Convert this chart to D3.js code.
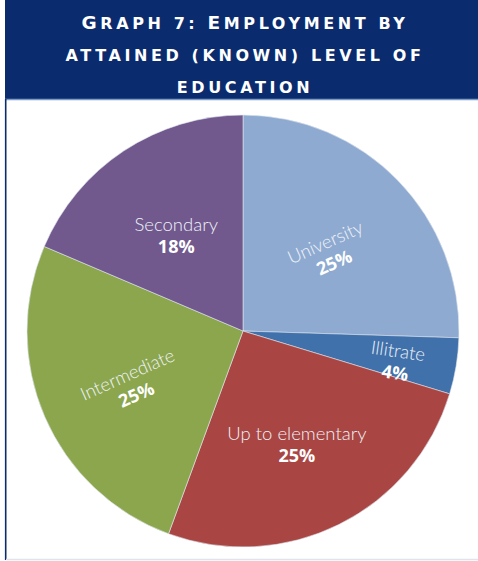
<!DOCTYPE html>
<html>
<head>
<meta charset="utf-8">
<script src="https://cdn.jsdelivr.net/npm/d3@7"></script>
<style>
  body { margin: 0; background: #fff; }
  svg { display: block; }
</style>
</head>
<body>
<div id="chart"></div>
<script>
// Data (shares of employed, in %)
const categories = ["University", "Illitrate", "Up to elementary", "Intermediate", "Secondary"];
const shares = [25.5, 4.2, 25.9, 25.8, 18.6];
const sliceColors = ["#8eaad0", "#4071aa", "#a94643", "#8ba64d", "#71598e"];
const labelRotation = [-24, 8, 0, -24, 0];  // Excel-style custom label rotation

const titleLines = [
    [["G", 1], ["RAPH 7: ", 0], ["E", 1], ["MPLOYMENT BY", 0]],
    [["ATTAINED (KNOWN) LEVEL OF", 0]],
    [["EDUCATION", 0]]
];

const width = 478, height = 561;
const cx = 243, cy = 331, radius = 216;

const svg = d3.select("#chart")
    .append("svg")
    .attr("width", width)
    .attr("height", height);

// frame: title bar, left rule, bottom rule
svg.append("rect")
    .attr("x", 5).attr("y", 0)
    .attr("width", width - 5).attr("height", 99)
    .attr("fill", "#0a2c6e");
svg.append("line")
    .attr("x1", 5).attr("x2", width)
    .attr("y1", 99.5).attr("y2", 99.5)
    .attr("stroke", "#7d9bc9").attr("stroke-width", 1.5);
svg.append("line")
    .attr("x1", 5.7).attr("x2", 5.7)
    .attr("y1", 99).attr("y2", 560)
    .attr("stroke", "#0a2c6e").attr("stroke-width", 1.6);
svg.append("line")
    .attr("x1", 6).attr("x2", width)
    .attr("y1", 559.5).attr("y2", 559.5)
    .attr("stroke", "#dfe4ec").attr("stroke-width", 1.5);

// title in faux small caps
const title = svg.append("text")
    .attr("text-anchor", "middle")
    .attr("fill", "#fff")
    .style("font-family", "DejaVu Sans, sans-serif")
    .style("font-weight", "bold")
    .style("letter-spacing", "3.6px");

titleLines.forEach((line, i) => {
    const t = title.append("tspan")
        .attr("x", 245)
        .attr("y", 28.5 + i * 32);
    line.forEach(([s, big]) => {
        t.append("tspan")
            .style("font-size", big ? "18.5px" : "16px")
            .text(s);
    });
});

// pie
const pie = d3.pie().sort(null).value(d => d);
const arcs = pie(shares);
const total = d3.sum(shares);

const arc = d3.arc().innerRadius(0).outerRadius(radius);
const labelArc = d3.arc();

const g = svg.append("g")
    .attr("transform", `translate(${cx},${cy})`);

g.selectAll("path")
    .data(arcs)
    .enter()
    .append("path")
    .attr("d", arc)
    .attr("fill", (d, i) => sliceColors[i])
    .attr("stroke", "#dfe6f0")
    .attr("stroke-width", 0.6);

// data labels: name on top, truncated percentage below
const label = g.selectAll("g.label")
    .data(arcs)
    .enter()
    .append("g")
    .attr("class", "label")
    .attr("transform", (d, i) => {
        const r = d.value / total < 0.1 ? radius * 0.72 : radius * 0.56;
        const [x, y] = labelArc.innerRadius(r).outerRadius(r).centroid(d);
        return `translate(${x},${y + 6}) rotate(${labelRotation[i]})`;
    });

label.append("text")
    .attr("text-anchor", "middle")
    .attr("y", -5)
    .attr("fill", "#eef2f8")
    .style("font-family", "Lato, sans-serif")
    .style("font-weight", 300)
    .style("font-size", "18.5px")
    .text((d, i) => categories[i]);

label.append("text")
    .attr("text-anchor", "middle")
    .attr("y", 17)
    .attr("fill", "#fff")
    .style("font-family", "Open Sans, sans-serif")
    .style("font-weight", "bold")
    .style("font-size", "18px")
    .text(d => Math.floor(d.value / total * 100) + "%");
</script>
</body>
</html>
